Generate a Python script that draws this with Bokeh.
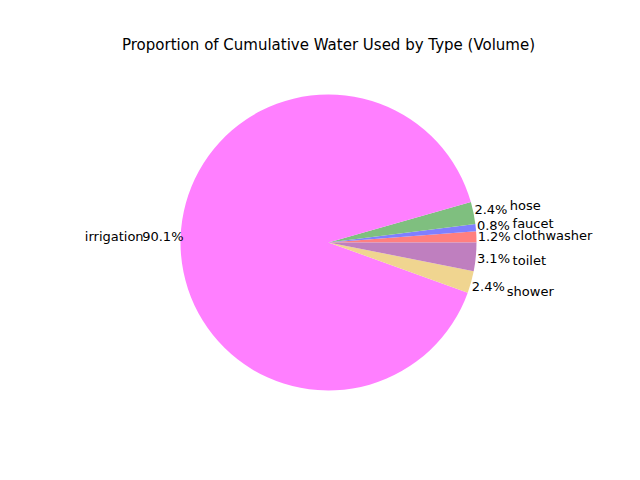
import numpy as np
from bokeh.models import Range1d, ColumnDataSource
from bokeh.plotting import figure
from bokeh.core.properties import value
from bokeh.embed import file_html
from bokeh.resources import INLINE

TYPES = ['clothwasher', 'faucet', 'hose', 'irrigation', 'shower', 'toilet']
SHARES = [1.2, 0.8, 2.4, 90.1, 2.4, 3.1]
COLORS = ['#ff7f7f', '#7f7fff', '#7fbf7f', '#ff7fff', '#f0d590', '#bf7fbf']

# page pixel space: center and radius as in the reference
CX, CY, R = 328, -242, 148

p = figure(width=624, height=464, output_backend="svg", toolbar_location=None,
           x_range=Range1d(0, 624), y_range=Range1d(-464, 0), min_border=0)
p.axis.visible = False
p.grid.visible = False
p.outline_line_color = None

tot = sum(SHARES)
ends = np.cumsum(SHARES) / tot * 2 * np.pi
starts = np.concatenate([[0], ends[:-1]])
mids = (starts + ends) / 2

src = ColumnDataSource(dict(start=starts, end=ends, color=COLORS))
p.wedge(x=CX, y=CY, radius=R, radius_units="screen", start_angle='start',
        end_angle='end', fill_color='color', line_color=None, source=src)

font = value("DejaVu Sans")
pct = ['%.1f%%' % (s / tot * 100) for s in SHARES]
p.text(x=CX + 1.12 * R * np.cos(mids), y=CY + 1.12 * R * np.sin(mids), text=pct,
       text_align='center', text_baseline='middle', text_font=font,
       text_font_size='13px')
lx = CX + 1.25 * R * np.cos(mids)
ly = CY + 1.25 * R * np.sin(mids)
align = ['left' if c > 0 else 'right' for c in np.cos(mids)]
p.text(x=lx, y=ly, text=TYPES, text_align=align, text_baseline='middle',
       text_font=font, text_font_size='13px')

p.text(x=[328], y=[-44], text=['Proportion of Cumulative Water Used by Type (Volume)'],
       text_align='center', text_baseline='middle', text_font=font,
       text_font_size='15px')

open("out.html", "w").write(file_html(p, INLINE))
